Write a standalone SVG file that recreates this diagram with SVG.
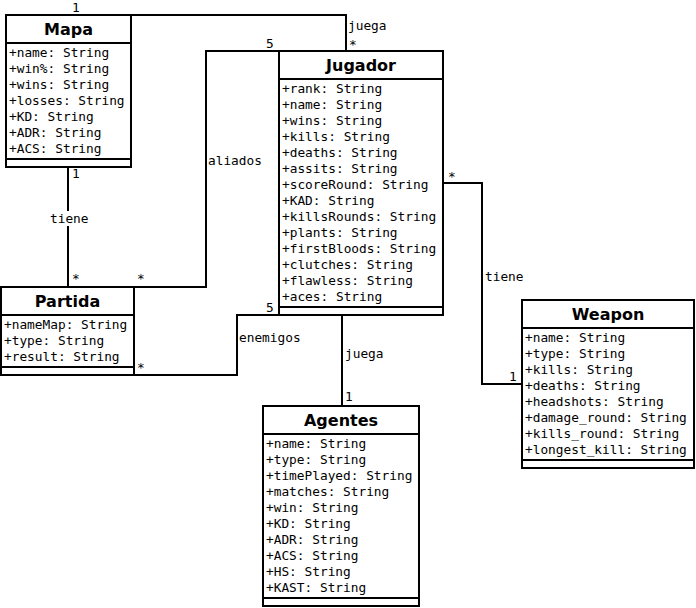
<svg xmlns="http://www.w3.org/2000/svg" width="696" height="608" viewBox="0 0 696 608">
<style>
.box{fill:#fff;stroke:#000;stroke-width:2}
.ln{fill:none;stroke:#000;stroke-width:2}
.t{font-family:"DejaVu Sans Mono","Liberation Mono",monospace;font-size:12.8px;fill:#000}
.h{font-family:"DejaVu Sans","Liberation Sans",sans-serif;font-size:16px;font-weight:bold;fill:#000;text-anchor:middle}
.lb{font-family:"DejaVu Sans Mono","Liberation Mono",monospace;font-size:12.8px;fill:#000}
</style>
<rect width="696" height="608" fill="#fff"/>
<g id="connectors">
<polyline class="ln" points="131,15 346,15 346,51"/>
<line class="ln" x1="68" y1="167" x2="68" y2="287"/>
<polyline class="ln" points="68,287 206,287 206,51 279,51"/>
<polyline class="ln" points="134,375 237,375 237,315 279,315"/>
<line class="ln" x1="342" y1="315" x2="342" y2="406"/>
<polyline class="ln" points="443,183 482,183 482,384 522,384"/>
<rect x="49" y="211" width="40" height="15" fill="#fff"/>
<text class="lb" x="72" y="12">1</text>
<text class="lb" x="348" y="30">juega</text>
<text class="lb" x="349" y="49">*</text>
<text class="lb" x="266" y="48">5</text>
<text class="lb" x="72" y="178">1</text>
<text class="lb" x="50" y="223">tiene</text>
<text class="lb" x="72" y="283">*</text>
<text class="lb" x="137" y="283">*</text>
<text class="lb" x="208" y="165">aliados</text>
<text class="lb" x="137" y="372">*</text>
<text class="lb" x="239" y="342">enemigos</text>
<text class="lb" x="266" y="312">5</text>
<text class="lb" x="349" y="313">*</text>
<text class="lb" x="345" y="358">juega</text>
<text class="lb" x="345" y="401">1</text>
<text class="lb" x="448" y="181">*</text>
<text class="lb" x="485" y="281">tiene</text>
<text class="lb" x="509" y="381">1</text>
</g>
<g id="Mapa">
<rect class="box" x="6" y="15" width="125" height="152"/>
<line class="ln" x1="6" y1="43" x2="131" y2="43"/>
<line class="ln" x1="6" y1="159" x2="131" y2="159"/>
<text class="h" x="68.5" y="35">Mapa</text>
<text class="t" x="9" y="57">+name: String</text>
<text class="t" x="9" y="73">+win%: String</text>
<text class="t" x="9" y="89">+wins: String</text>
<text class="t" x="9" y="105">+losses: String</text>
<text class="t" x="9" y="121">+KD: String</text>
<text class="t" x="9" y="137">+ADR: String</text>
<text class="t" x="9" y="153">+ACS: String</text>
</g>
<g id="Jugador">
<rect class="box" x="279" y="51" width="164" height="264"/>
<line class="ln" x1="279" y1="79" x2="443" y2="79"/>
<line class="ln" x1="279" y1="307" x2="443" y2="307"/>
<text class="h" x="361" y="71">Jugador</text>
<text class="t" x="282" y="93">+rank: String</text>
<text class="t" x="282" y="109">+name: String</text>
<text class="t" x="282" y="125">+wins: String</text>
<text class="t" x="282" y="141">+kills: String</text>
<text class="t" x="282" y="157">+deaths: String</text>
<text class="t" x="282" y="173">+assits: String</text>
<text class="t" x="282" y="189">+scoreRound: String</text>
<text class="t" x="282" y="205">+KAD: String</text>
<text class="t" x="282" y="221">+killsRounds: String</text>
<text class="t" x="282" y="237">+plants: String</text>
<text class="t" x="282" y="253">+firstBloods: String</text>
<text class="t" x="282" y="269">+clutches: String</text>
<text class="t" x="282" y="285">+flawless: String</text>
<text class="t" x="282" y="301">+aces: String</text>
</g>
<g id="Partida">
<rect class="box" x="1" y="287" width="133" height="88"/>
<line class="ln" x1="1" y1="315" x2="134" y2="315"/>
<line class="ln" x1="1" y1="367" x2="134" y2="367"/>
<text class="h" x="67.5" y="307">Partida</text>
<text class="t" x="4" y="329">+nameMap: String</text>
<text class="t" x="4" y="345">+type: String</text>
<text class="t" x="4" y="361">+result: String</text>
</g>
<g id="Weapon">
<rect class="box" x="522" y="300" width="172" height="168"/>
<line class="ln" x1="522" y1="328" x2="694" y2="328"/>
<line class="ln" x1="522" y1="460" x2="694" y2="460"/>
<text class="h" x="608" y="320">Weapon</text>
<text class="t" x="525" y="342">+name: String</text>
<text class="t" x="525" y="358">+type: String</text>
<text class="t" x="525" y="374">+kills: String</text>
<text class="t" x="525" y="390">+deaths: String</text>
<text class="t" x="525" y="406">+headshots: String</text>
<text class="t" x="525" y="422">+damage_round: String</text>
<text class="t" x="525" y="438">+kills_round: String</text>
<text class="t" x="525" y="454">+longest_kill: String</text>
</g>
<g id="Agentes">
<rect class="box" x="263" y="406" width="156" height="200"/>
<line class="ln" x1="263" y1="434" x2="419" y2="434"/>
<line class="ln" x1="263" y1="598" x2="419" y2="598"/>
<text class="h" x="341" y="426">Agentes</text>
<text class="t" x="266" y="448">+name: String</text>
<text class="t" x="266" y="464">+type: String</text>
<text class="t" x="266" y="480">+timePlayed: String</text>
<text class="t" x="266" y="496">+matches: String</text>
<text class="t" x="266" y="512">+win: String</text>
<text class="t" x="266" y="528">+KD: String</text>
<text class="t" x="266" y="544">+ADR: String</text>
<text class="t" x="266" y="560">+ACS: String</text>
<text class="t" x="266" y="576">+HS: String</text>
<text class="t" x="266" y="592">+KAST: String</text>
</g>
</svg>
